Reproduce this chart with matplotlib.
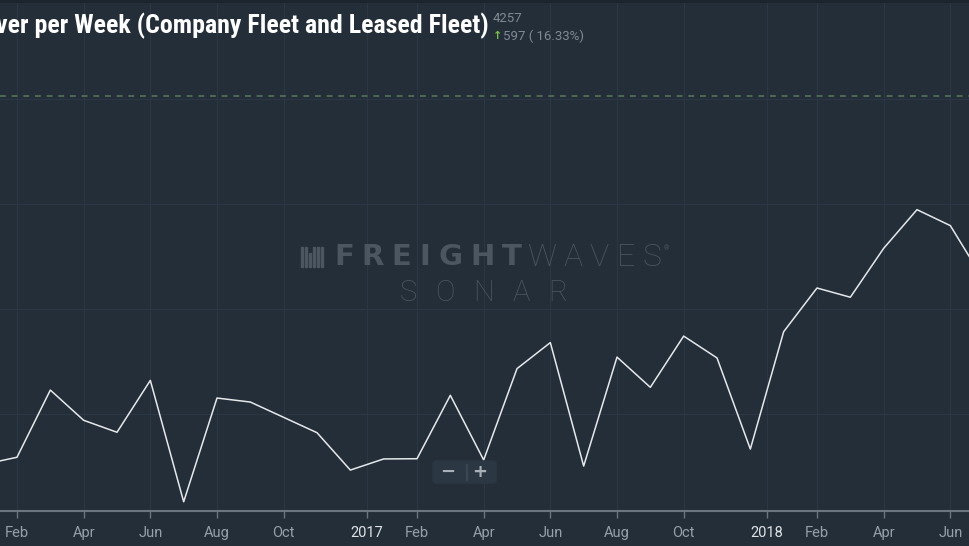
import matplotlib
matplotlib.use("Agg")
import matplotlib.pyplot as plt
from matplotlib import font_manager
from matplotlib.patches import FancyBboxPatch, Rectangle

# monthly values, Jan 2016 .. Jul 2018
months = ["Jan 16", "Feb 16", "Mar 16", "Apr 16", "May 16", "Jun 16", "Jul 16", "Aug 16",
          "Sep 16", "Oct 16", "Nov 16", "Dec 16", "Jan 17", "Feb 17", "Mar 17", "Apr 17",
          "May 17", "Jun 17", "Jul 17", "Aug 17", "Sep 17", "Oct 17", "Nov 17", "Dec 17",
          "Jan 18", "Feb 18", "Mar 18", "Apr 18", "May 18", "Jun 18", "Jul 18"]
values = [3260, 3294, 3614, 3470, 3413, 3660, 3082, 3576, 3557, 3484, 3411, 3233,
          3286, 3287, 3589, 3281, 3716, 3840, 3252, 3771, 3627, 3871, 3767, 3333,
          3892, 4100, 4056, 4289, 4473, 4397, 4138]
tick_pos = [1, 3, 5, 7, 9, 11.5, 13, 15, 17, 19, 21, 23.5, 25, 27, 29]
tick_labels = ["Feb", "Apr", "Jun", "Aug", "Oct", "2017", "Feb", "Apr", "Jun", "Aug",
               "Oct", "2018", "Feb", "Apr", "Jun"]
grid_values = [3500, 4000, 4500, 5000]
ref_line = 5016

title = "ver per Week (Company Fleet and Leased Fleet)"
last_value = "4257"
change = "597 ( 16.33%)"

installed = {f.name for f in font_manager.fontManager.ttflist}
def pick(*names):
    for n in names:
        if n in installed:
            return n
    return "DejaVu Sans"

cond_font = pick("Roboto Condensed", "Liberation Sans Narrow", "Roboto")
ui_font = pick("Roboto", "Lato", "DejaVu Sans")

W, H = 970, 546
BG = "#232e39"
fig = plt.figure(figsize=(9.7, 5.46), dpi=100, facecolor=BG)
ax = fig.add_axes([0, 35 / H, 1, 508 / H])
ax.set_facecolor(BG)

x = list(range(len(values)))
ax.plot(x, values, color="#e6e8ea", lw=1.1, zorder=3)
ax.axhline(ref_line, color="#4f6a52", lw=1.4, ls=(0, (3, 3)), zorder=2)

ax.set_xlim(0.49, 29.59)
ax.set_ylim(4000 - (511 - 309) * 500 / 105, 4000 + (309 - 3) * 500 / 105)

for v in grid_values:
    ax.axhline(v, color="#2b3744", lw=0.8, zorder=1)
for p in tick_pos:
    ax.axvline(p, color="#2b3744", lw=0.8, zorder=1)

ax.set_xticks(tick_pos)
ax.set_xticklabels(tick_labels)
ax.set_yticks([])
for s in ["top", "left", "right"]:
    ax.spines[s].set_visible(False)
ax.spines["bottom"].set_color("#6b7580")
ax.spines["bottom"].set_linewidth(1.5)
ax.tick_params(axis="x", colors="#6b7580", length=5, width=1, pad=6)
for lbl in ax.get_xticklabels():
    lbl.set_fontfamily(ui_font)
    lbl.set_fontsize(10.5)
    if lbl.get_text() in ("2017", "2018"):
        lbl.set_color("#dfe3e6")
    else:
        lbl.set_color("#97a0a8")

# dark strip on top
fig.add_artist(Rectangle((0, 1 - 3 / H), 1, 3 / H, transform=fig.transFigure,
                         color="#1c242d", zorder=0))

# title and latest value (title runs off the left edge, as in the screenshot)
fig.text(-4 / W, 1 - 26 / H, title, family=cond_font, weight="bold", fontsize=18.6,
         color="#ffffff", va="center", ha="left")
fig.text(493 / W, 1 - 19 / H, last_value, family=ui_font, fontsize=9.5,
         color="#7f8a94", va="center", ha="left")
fig.text(493 / W, 1 - 36 / H, "\u2191", family="DejaVu Sans", fontsize=8,
         weight="bold", color="#7ac143", va="center", ha="left")
fig.text(503 / W, 1 - 36 / H, change, family=ui_font, fontsize=9.5,
         color="#7f8a94", va="center", ha="left")

# watermark, letters spread evenly between two pixel edges
renderer = fig.canvas.get_renderer()
def tracked(word, x0, x1, y, **kw):
    items = [fig.text(0, 1 - y / H, ch, va="center", ha="left", **kw) for ch in word]
    widths = [t.get_window_extent(renderer).width for t in items]
    gap = (x1 - x0 - sum(widths)) / max(len(word) - 1, 1)
    pos = x0
    for t, w in zip(items, widths):
        t.set_x(pos / W)
        pos += w + gap

wm = "#4b5661"
for bx, bh in [(301, 20), (305, 20), (309, 14), (313, 20), (317, 20), (321, 20)]:
    fig.add_artist(Rectangle((bx / W, 1 - 267 / H), 2 / W, bh / H,
                             transform=fig.transFigure, color=wm, zorder=1))
tracked("FREIGHT", 334, 522, 257, family="DejaVu Sans", weight="bold",
        fontsize=21, color=wm)
tracked("WAVES", 527, 661, 257, family=ui_font, weight="light",
        fontsize=23, color=wm)
fig.text(664 / W, 1 - 249 / H, "\u00ae", family=ui_font, fontsize=5,
         color=wm, va="center", ha="left")
tracked("SONAR", 400, 567, 293, family=ui_font, weight="light",
        fontsize=21, color=wm)

# zoom buttons
fig.add_artist(FancyBboxPatch((433 / W, 1 - 483 / H), 63 / W, 22 / H,
                              boxstyle="round,pad=0,rounding_size=0.004",
                              transform=fig.transFigure, color="#2c3744", zorder=4))
fig.text(448 / W, 1 - 472 / H, "\u2212", fontsize=13, weight="bold",
         color="#a9b1b8", va="center", ha="center", zorder=5)
fig.text(480 / W, 1 - 472 / H, "+", fontsize=13, weight="bold",
         color="#a9b1b8", va="center", ha="center", zorder=5)
fig.add_artist(Rectangle((466 / W, 1 - 480 / H), 1 / W, 16 / H,
                         transform=fig.transFigure, color="#3a4653", zorder=5))

fig.savefig("out.png", dpi=100, facecolor=BG)
